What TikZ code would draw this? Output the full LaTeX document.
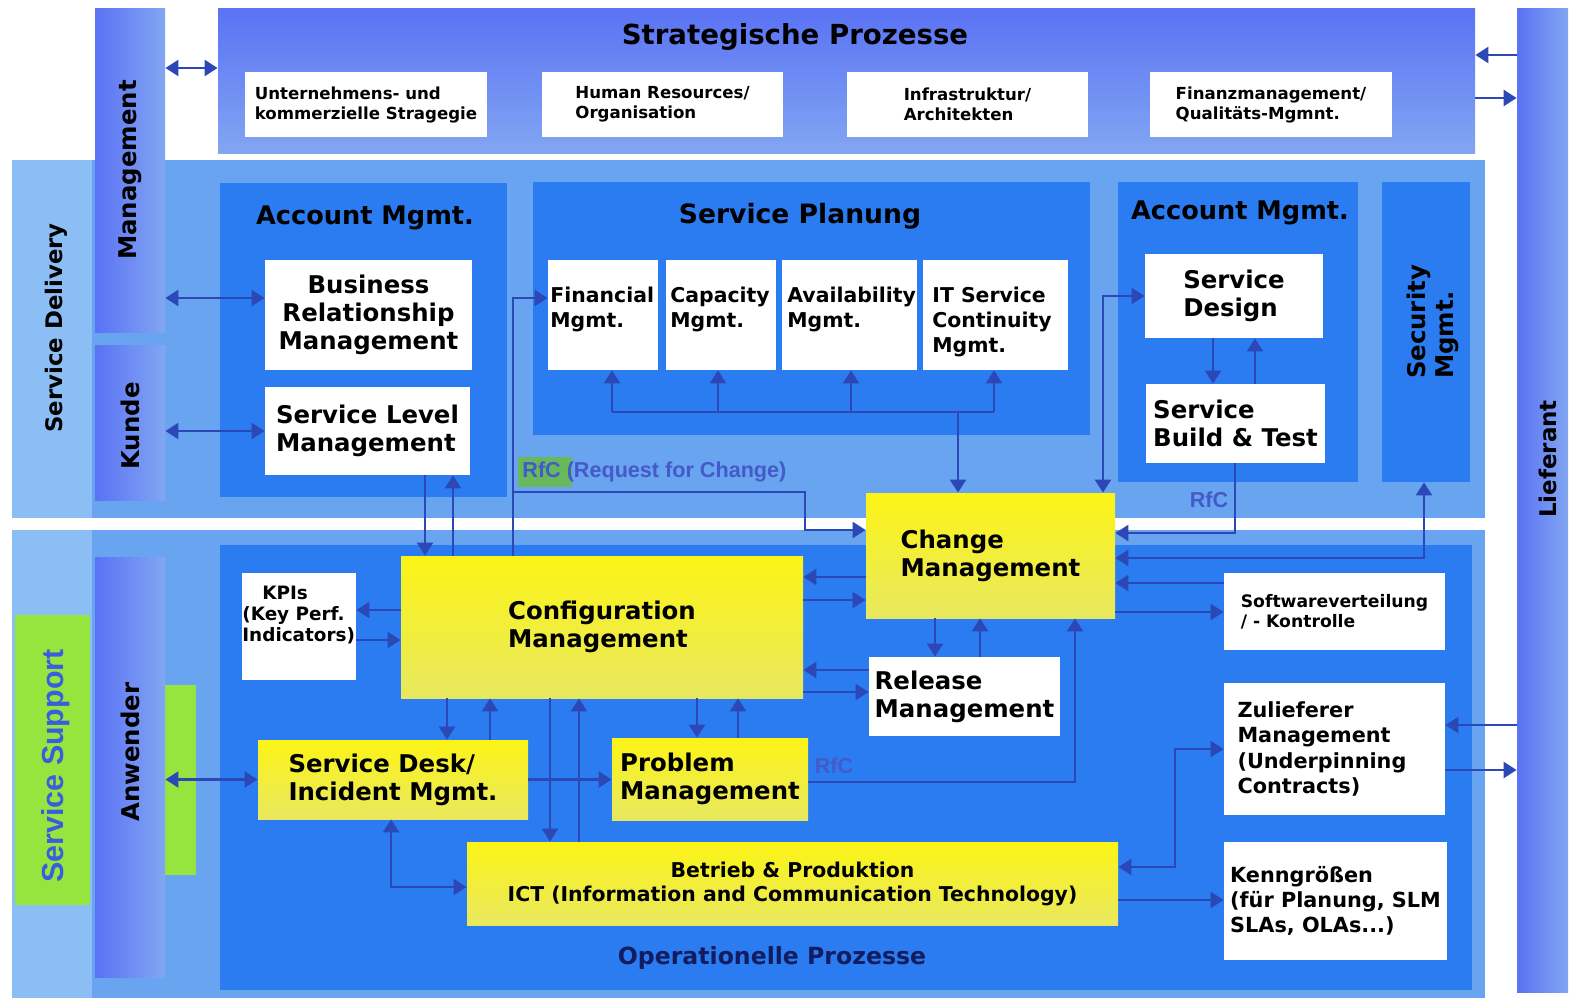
\documentclass[tikz,border=0pt]{standalone}
\usepackage{fontspec}
\setmainfont{DejaVu Sans}
\newfontfamily\rfcfont{Liberation Sans}
\usetikzlibrary{arrows.meta,fit,positioning}

\definecolor{bandblue}{RGB}{104,164,240}
\definecolor{stripblue}{RGB}{140,190,246}
\definecolor{panelblue}{RGB}{42,124,240}
\definecolor{bartop}{RGB}{90,114,244}
\definecolor{barlow}{RGB}{130,166,242}
\definecolor{linkblue}{RGB}{44,72,182}
\definecolor{boxyellow}{RGB}{252,244,22}
\definecolor{paleyellow}{RGB}{232,232,96}
\definecolor{marker}{RGB}{150,228,62}
\definecolor{rfcgreen}{RGB}{104,184,92}
\definecolor{fadeblue}{RGB}{68,90,200}
\definecolor{supportblue}{RGB}{58,92,222}
\definecolor{navy}{RGB}{18,28,96}

\tikzset{
  % fonts
  fhead/.style={font=\fontsize{12.8}{15}\selectfont\bfseries},
  fbig/.style={font=\fontsize{12.2}{14}\selectfont\bfseries},
  fmid/.style={font=\fontsize{10.2}{12.5}\selectfont\bfseries},
  fsml/.style={font=\fontsize{8.3}{10}\selectfont\bfseries},
  fzul/.style={font=\fontsize{10.4}{12.6}\selectfont\bfseries},
  % boxes
  panel/.style={fill=panelblue, inner sep=0pt},
  stratpanel/.style={top color=bartop, bottom color=barlow, inner sep=0pt},
  vbar/.style={left color=bartop, right color=barlow, inner sep=0pt},
  wbox/.style={fill=white, inner sep=0pt, align=left},
  ybox/.style={top color=boxyellow, bottom color=paleyellow, inner sep=0pt, align=left},
  vlabel/.style={fbig, rotate=90, inner sep=0pt},
  rfctext/.style={text=fadeblue, inner sep=0pt, font=\fontsize{10.8}{12}\rfcfont\bfseries},
  % connectors
  link/.style={draw=linkblue, line width=1.2pt},
  arr/.style={link, -{Triangle[length=6.5pt,width=8pt]}},
  darr/.style={link, {Triangle[length=6.5pt,width=8pt]}-{Triangle[length=6.5pt,width=8pt]}}
}

\begin{document}
\begin{tikzpicture}[x=0.5pt,y=-0.5pt]
  \useasboundingbox (0,0) rectangle (1574,1002);
  \fill[white] (0,0) rectangle (1574,1002);

  % Delivery and support bands
  \fill[bandblue] (12,160) rectangle (1485,518);
  \fill[bandblue] (12,530) rectangle (1485,998);
  \fill[stripblue] (12,160) rectangle (92,518);
  \fill[stripblue] (12,530) rectangle (92,998);
  \fill[marker] (15,615) rectangle (90,905);
  \fill[marker] (160,685) rectangle (196,875);
  \node[vlabel, font=\fontsize{11.4}{13}\selectfont\bfseries] (deliv) at (56,328) {Service Delivery};
  \node[rotate=90, inner sep=0pt, text=supportblue, font=\fontsize{15.2}{17}\rfcfont\bfseries] (supp) at (56,766) {Service Support};

  % Strategic processes
  \node[stratpanel, fit={(218,8) (1475,153)}] (strat) {};
  \node[font=\fontsize{13.8}{16}\selectfont\bfseries] (strattitle) at (795,37) {Strategische Prozesse};
  \node[wbox, fsml, minimum width=121pt, minimum height=32.5pt] (strategie) at (366,104.5) {Unternehmens- und\\kommerzielle Stragegie};
  \node[wbox, fsml, minimum width=120.5pt, minimum height=32.5pt] (personal) at (662.5,104.5) {Human Resources/\\Organisation};
  \node[wbox, fsml, minimum width=120.5pt, minimum height=32.5pt] (infra) at (967.5,104.5) {Infrastruktur/\\Architekten};
  \node[wbox, fsml, minimum width=121pt, minimum height=32.5pt] (finanz) at (1271,104.5) {Finanzmanagement/\\Qualitäts-Mgmnt.};

  % Side bars
  \node[vbar, fit={(95,8) (165,332)}] (mgmt) {};
  \node[vlabel] (mgmtlbl) at (mgmt.center) {Management};
  \node[vbar, fit={(95,345) (165,500)}] (kunde) {};
  \node[vlabel] (kundelbl) at (130,426) {Kunde};
  \node[vbar, fit={(95,557) (165,977)}] (anw) {};
  \node[vlabel] (anwlbl) at (130,752) {Anwender};
  \node[vbar, fit={(1517,8) (1568,992)}] (lief) {};
  \node[vlabel, font=\fontsize{11.5}{13}\selectfont\bfseries] (lieflbl) at (1548,459) {Lieferant};

  % Panels
  \node[panel, fit={(220,183) (507,497)}] (acc1) {};
  \node[fhead] (acc1title) at (365,218) {Account Mgmt.};
  \node[panel, fit={(533,182) (1090,435)}] (plan) {};
  \node[fhead, font=\fontsize{13.3}{15}\selectfont\bfseries] (plantitle) at (800,216) {Service Planung};
  \node[panel, fit={(1118,182) (1358,482)}] (acc2) {};
  \node[fhead] (acc2title) at (1240,213) {Account Mgmt.};
  \node[panel, fit={(1382,182) (1470,482)}] (sec) {};
  \node[vlabel, align=left] (seclbl) at (1433,322) {Security\\Mgmt.};
  \node[panel, fit={(220,545) (1472,990)}] (ops) {};
  \node[fhead, text=navy, font=\fontsize{11.8}{14}\selectfont\bfseries] (opstitle) at (772,958) {Operationelle Prozesse};

  % Service delivery boxes
  \node[wbox, fbig, align=center, minimum width=103.5pt, minimum height=55pt] (brm) at (368.5,315) {Business\\Relationship\\Management};
  \node[wbox, fbig, minimum width=102.5pt, minimum height=44pt] (slm) at (367.5,431) {Service Level\\Management};
  \node[wbox, fit={(548,260) (658,370)}] (financial) {};
  \node[fmid, align=left, anchor=north west, inner sep=0pt] (financialtxt) at (550,287) {Financial\\Mgmt.};
  \node[wbox, fit={(666,260) (776,370)}] (capacity) {};
  \node[fmid, align=left, anchor=north west, inner sep=0pt] (capacitytxt) at (670,287) {Capacity\\Mgmt.};
  \node[wbox, fit={(782,260) (917,370)}] (avail) {};
  \node[fmid, align=left, anchor=north west, inner sep=0pt] (availtxt) at (787,287) {Availability\\Mgmt.};
  \node[wbox, fit={(923,260) (1068,370)}] (itscm) {};
  \node[fmid, align=left, anchor=north west, inner sep=0pt] (itscmtxt) at (932,287) {IT Service\\Continuity\\Mgmt.};
  \node[wbox, fbig, minimum width=89pt, minimum height=42pt] (sdesign) at (1234,296) {Service\\Design};
  \node[wbox, fbig, minimum width=89.5pt, minimum height=39.5pt] (sbuild) at (1235.5,423.5) {Service\\Build \& Test};

  % Operational boxes
  \node[ybox, fbig, minimum width=124.5pt, minimum height=62.5pt] (change) at (990.5,555.5) {Change\\Management};
  \node[ybox, fbig, minimum width=201pt, minimum height=71pt] (config) at (602,627) {Configuration\\Management};
  \node[ybox, fbig, minimum width=135pt, minimum height=39.5pt] (desk) at (393,779.5) {Service Desk/\\Incident Mgmt.};
  \node[ybox, fbig, minimum width=98pt, minimum height=41pt] (problem) at (710,779) {Problem\\Management};
  \node[ybox, align=center, font=\fontsize{10.2}{12}\selectfont\bfseries, minimum width=325.5pt, minimum height=41.5pt] (betrieb) at (792.5,883.5) {Betrieb \& Produktion\\ICT (Information and Communication Technology)};
  \node[wbox, fit={(242,573) (356,680)}] (kpi) {};
  \node[align=left, anchor=north west, inner sep=0pt, font=\fontsize{9.2}{10.5}\selectfont\bfseries] (kpitxt) at (242,586) {\hspace{10pt}KPIs\\(Key Perf.\\Indicators)};
  \node[wbox, fbig, minimum width=95.5pt, minimum height=39.5pt] (release) at (964.5,696.5) {Release\\Management};
  \node[wbox, font=\fontsize{8.6}{10}\selectfont\bfseries, minimum width=110.5pt, minimum height=38.5pt] (swv) at (1334.5,611.5) {Softwareverteilung\\/ - Kontrolle};
  \node[wbox, fzul, text width=97pt, minimum width=110.5pt, minimum height=66pt] (zulief) at (1334.5,749) {Zulieferer\\Management\\(Underpinning\\Contracts)};
  \node[wbox, fzul, minimum width=111.5pt, minimum height=59pt] (kenn) at (1335.5,901) {Kenngrößen\\(für Planung, SLM\\SLAs, OLAs...)};

  % RfC notes
  \fill[rfcgreen] (518,457) rectangle (572,487);
  \node[rfctext, anchor=west] (rfcnote) at (522,472) {RfC (Request for Change)};
  \node[rfctext] (rfcbuild) at (1209,500) {RfC};
  \node[rfctext] (rfcprob) at (834,766) {RfC};

  % Links to the outside
  \draw[darr] (mgmt.east |- 0,68) -- (strat.west |- 0,68);
  \draw[darr] (mgmt.east |- 0,298) -- (brm.west |- 0,298);
  \draw[darr] (kunde.east |- slm.west) -- (slm.west);
  \draw[darr] (anw.east |- desk.west) -- (desk.west);
  \draw[arr] (lief.west |- 0,55) -- (strat.east |- 0,55);
  \draw[arr] (strat.east |- 0,98) -- (lief.west |- 0,98);
  \draw[arr] (lief.west |- 0,725) -- (zulief.east |- 0,725);
  \draw[arr] (zulief.east |- 0,770) -- (lief.west |- 0,770);

  % Service planning bus
  \coordinate (busw) at (612,412);
  \coordinate (buse) at (994,412);
  \coordinate (bus) at (958,412);
  \draw[link] (busw) -- (buse);
  \foreach \x/\n in {612/financial,718/capacity,851/avail,994/itscm}
    \draw[arr] (\x,412) -- (\x,0 |- \n.south);
  \draw[arr] (bus) -- (bus |- change.north);

  % Requests for change
  \coordinate (rfcsplit) at (513,492);
  \draw[arr] (513,0 |- config.north) |- (financial.west |- 0,298);
  \draw[arr] (rfcsplit) -| (805,530) -- (change.west |- 0,530);
  \draw[darr] (sdesign.west) -| (1103,0 |- change.north);
  \draw[arr] (1213,0 |- sdesign.south) -- (1213,0 |- sbuild.north);
  \draw[arr] (1255,0 |- sbuild.north) -- (1255,0 |- sdesign.south);
  \draw[arr] (1235,0 |- sbuild.south) |- (change.east |- 0,533);
  \draw[darr] (1424,0 |- sec.south) |- (change.east |- 0,558);
  \draw[arr] (swv.west |- 0,583) -- (change.east |- 0,583);
  \draw[arr] (change.east |- 0,612) -- (swv.west |- 0,612);
  \draw[arr] (problem.east |- 0,782) -| (1075,0 |- change.south);

  % Configuration and its neighbours
  \draw[arr] (change.west |- 0,577) -- (config.east |- 0,577);
  \draw[arr] (config.east |- 0,600) -- (change.west |- 0,600);
  \draw[arr] (release.west |- 0,670) -- (config.east |- 0,670);
  \draw[arr] (config.east |- 0,692) -- (release.west |- 0,692);
  \draw[arr] (935,0 |- change.south) -- (935,0 |- release.north);
  \draw[arr] (980,0 |- release.north) -- (980,0 |- change.south);
  \draw[arr] (config.west |- 0,610) -- (kpi.east |- 0,610);
  \draw[arr] (kpi.east |- 0,640) -- (config.west |- 0,640);
  \draw[arr] (425,0 |- slm.south) -- (425,0 |- config.north);
  \draw[arr] (453,0 |- config.north) -- (453,0 |- slm.south);
  \draw[arr] (447,0 |- config.south) -- (447,0 |- desk.north);
  \draw[arr] (490,0 |- desk.north) -- (490,0 |- config.south);
  \draw[arr] (697,0 |- config.south) -- (697,0 |- problem.north);
  \draw[arr] (738,0 |- problem.north) -- (738,0 |- config.south);
  \draw[arr] (550,0 |- config.south) -- (550,0 |- betrieb.north);
  \draw[arr] (579,0 |- betrieb.north) -- (579,0 |- config.south);

  % Incidents, operations and suppliers
  \draw[arr] (desk.east) -- (problem.west |- desk.east);
  \draw[darr] (391,0 |- desk.south) |- (betrieb.west |- 0,887);
  \draw[darr] (betrieb.east |- 0,867) -| (1175,0 |- zulief.west) -- (zulief.west);
  \draw[arr] (betrieb.east |- 0,900) -- (kenn.west |- 0,900);
\end{tikzpicture}
\end{document}
